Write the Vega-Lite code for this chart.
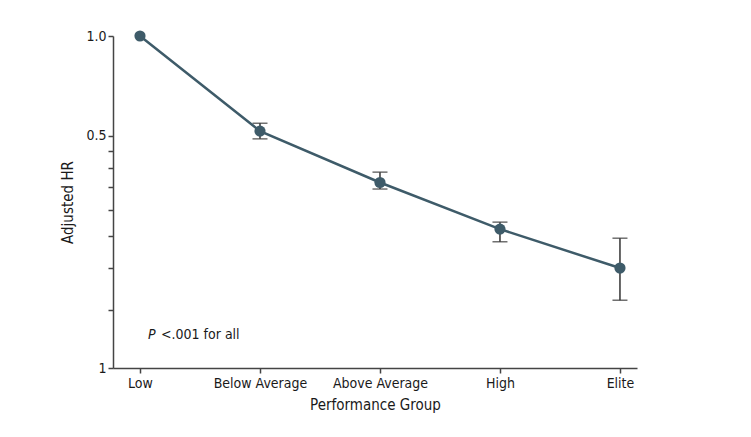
{
  "$schema": "https://vega.github.io/schema/vega-lite/v6.json",
  "width": 524,
  "height": 332,
  "autosize": "none",
  "padding": {"left": 113, "top": 36, "right": 114, "bottom": 69},
  "background": "white",
  "config": {
    "view": {"stroke": null},
    "font": "DejaVu Sans Condensed",
    "axis": {"labelFont": "DejaVu Sans Condensed", "titleFont": "DejaVu Sans Condensed", "labelColor": "#1a1a1a", "titleColor": "#1a1a1a", "titleFontWeight": "normal", "labelFontSize": 14, "titleFontSize": 15, "domainColor": "#444", "tickColor": "#444", "domainWidth": 1.5, "tickWidth": 1.5, "tickSize": 5}
  },
  "data": {
    "values": [
      {"idx": 0, "group": "Low", "hr": 1.0, "lo": null, "hi": null},
      {"idx": 1, "group": "Below Average", "hr": 0.517, "lo": 0.490, "hi": 0.546},
      {"idx": 2, "group": "Above Average", "hr": 0.362, "lo": 0.346, "hi": 0.389},
      {"idx": 3, "group": "High", "hr": 0.262, "lo": 0.240, "hi": 0.275},
      {"idx": 4, "group": "Elite", "hr": 0.200, "lo": 0.160, "hi": 0.246}
    ]
  },
  "encoding": {
    "x": {
      "field": "idx", "type": "quantitative",
      "scale": {"domain": [-0.225, 4.142], "nice": false, "zero": false},
      "axis": {"values": [0, 1, 2, 3, 4], "grid": false, "title": "Performance Group", "titlePadding": 7, "labelPadding": 3,
        "labelExpr": "['Low','Below Average','Above Average','High','Elite'][datum.value]"}
    },
    "y": {
      "field": "hr", "type": "quantitative",
      "scale": {"type": "log", "domain": [0.1, 1], "nice": false},
      "axis": {
        "title": "Adjusted HR", "titlePadding": 10, "labelPadding": 2,
        "ticks": true, "tickCount": 30, "labelOverlap": false,
        "values": [0.1, 0.15, 0.2, 0.25, 0.3, 0.35, 0.4, 0.45, 0.5, 1],
        "labelExpr": "datum.value == 1 ? '1.0' : (datum.value == 0.5 ? '0.5' : (datum.value == 0.1 ? '1' : ' '))",
        "grid": false
      }
    }
  },
  "layer": [
    {"data": {"values": [{"g": 1.0}, {"g": 0.5}]}, "mark": {"type": "rule", "color": "#e6e6e6", "strokeWidth": 1.5}, "encoding": {"y": {"field": "g", "type": "quantitative"}}},
    {"transform": [{"filter": "datum.lo != null"}], "mark": {"type": "rule", "color": "#333", "strokeWidth": 1.5}, "encoding": {"y": {"field": "lo", "type": "quantitative"}, "y2": {"field": "hi"}}},
    {"transform": [{"filter": "datum.lo != null"}], "mark": {"type": "tick", "orient": "horizontal", "color": "#333", "size": 15, "thickness": 1.5}, "encoding": {"y": {"field": "lo", "type": "quantitative"}}},
    {"transform": [{"filter": "datum.lo != null"}], "mark": {"type": "tick", "orient": "horizontal", "color": "#333", "size": 15, "thickness": 1.5}, "encoding": {"y": {"field": "hi", "type": "quantitative"}}},
    {"mark": {"type": "line", "color": "#3e5b69", "strokeWidth": 2.5}, "encoding": {}},
    {"mark": {"type": "circle", "color": "#3e5b69", "opacity": 1, "size": 125}, "encoding": {}},
    {"data": {"values": [{"x": 0.067, "y": 0.1257, "t": "P"}]}, "mark": {"type": "text", "align": "left", "baseline": "middle", "fontStyle": "italic", "fontSize": 14, "color": "#1a1a1a", "font": "DejaVu Sans Condensed"}, "encoding": {"x": {"field": "x", "type": "quantitative"}, "y": {"field": "y", "type": "quantitative"}, "text": {"field": "t"}}},
    {"data": {"values": [{"x": 0.175, "y": 0.1257, "t": "<.001 for all"}]}, "mark": {"type": "text", "align": "left", "baseline": "middle", "fontSize": 14, "color": "#1a1a1a", "font": "DejaVu Sans Condensed"}, "encoding": {"x": {"field": "x", "type": "quantitative"}, "y": {"field": "y", "type": "quantitative"}, "text": {"field": "t"}}}
  ]
}
